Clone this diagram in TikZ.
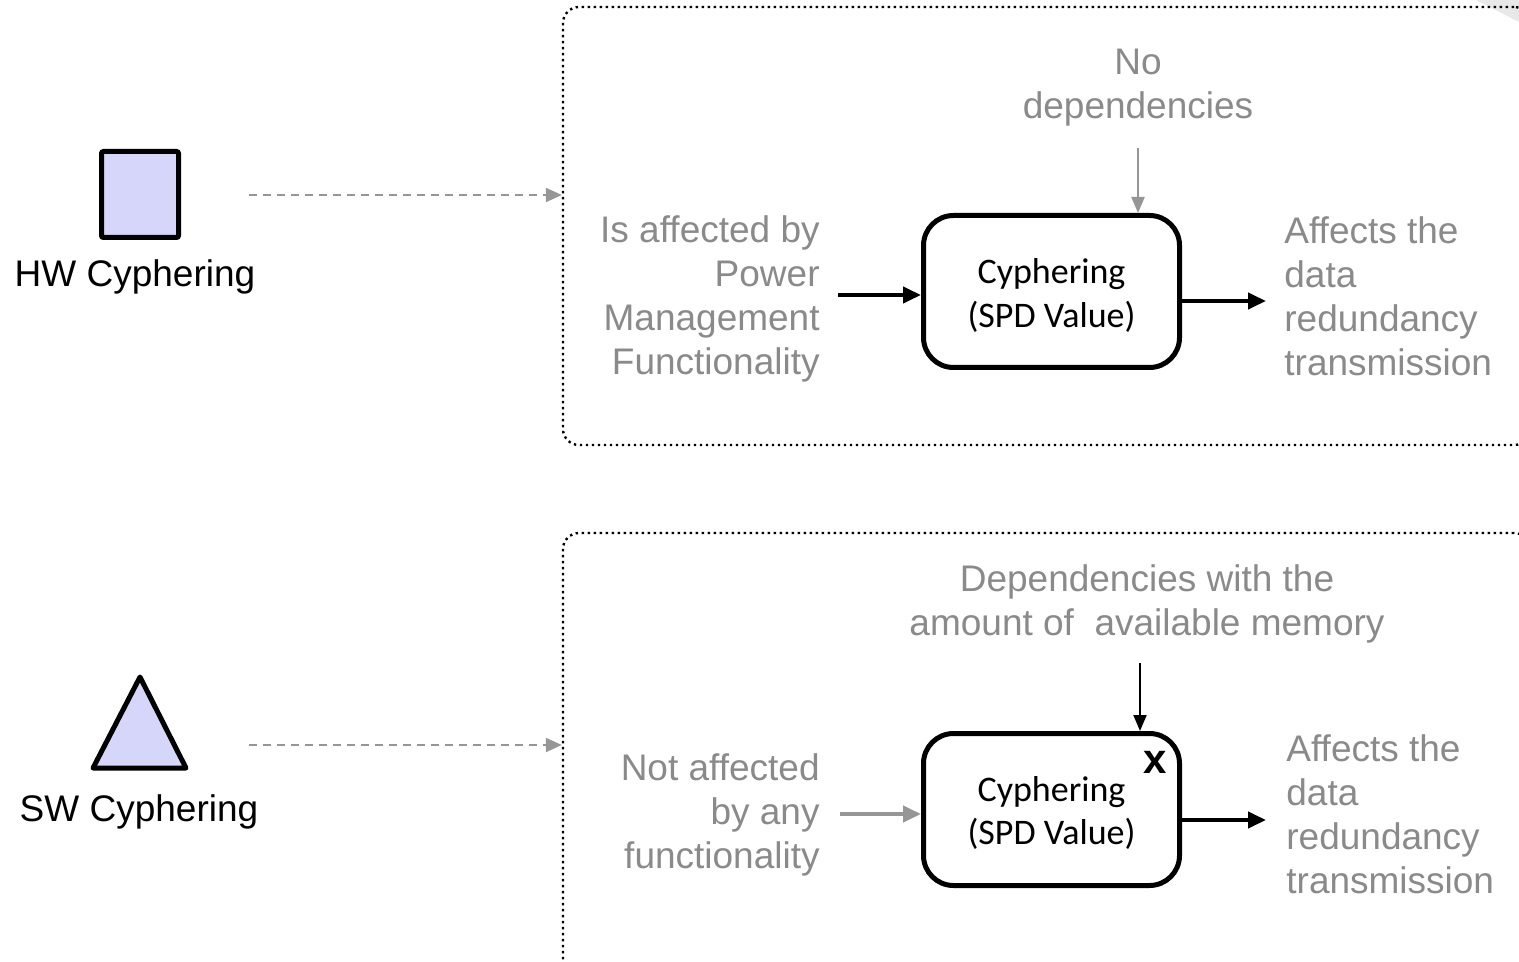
\documentclass[tikz,border=0pt]{standalone}
\usepackage{fontspec}
\setmainfont{Liberation Sans}
\newfontfamily\boxfont{Carlito}
\usetikzlibrary{arrows.meta}
\definecolor{lav}{RGB}{214,214,250}
\definecolor{lblgray}{RGB}{138,138,138}
\definecolor{arrgray}{RGB}{150,150,150}
\tikzset{
  lbl/.style={inner sep=0pt, text=lblgray, font=\fontsize{18.5}{22}\selectfont},
  kindlbl/.style={inner sep=0pt, font=\fontsize{18.5}{22}\selectfont},
  funcbox/.style={draw, line width=2.5pt, rounded corners=15pt, fill=white,
    minimum width=128pt, minimum height=76pt},
  boxtext/.style={inner sep=0pt, align=center,
    font=\boxfont\fontsize{18}{21.5}\selectfont},
  groupbox/.style={draw, line width=1.2pt, dash pattern=on 1.2pt off 1.8pt,
    rounded corners=8pt, inner sep=0pt},
  heavyarrow/.style={line width=2pt, -{Triangle[length=9pt,width=8pt]}},
  heavygray/.style={line width=2pt, draw=arrgray, -{Triangle[length=9pt,width=8pt,fill=arrgray]}},
  thinarrow/.style={line width=1pt, -{Triangle[length=8pt,width=6.5pt]}},
  thingray/.style={line width=1pt, draw=arrgray, -{Triangle[length=8pt,width=6.5pt,fill=arrgray]}},
  linkarrow/.style={line width=1pt, draw=arrgray, dash pattern=on 4pt off 3pt,
    -{Triangle[length=8pt,width=7pt,fill=arrgray]}},
}
\begin{document}
\begin{tikzpicture}[x=0.5pt,y=-0.5pt]
\clip (0,0) rectangle (1519,962);
\fill[white] (0,0) rectangle (1519,962);
% faint fold shadow in the top right corner
\fill[gray!18] (1476,0) -- (1519,0) -- (1519,22) -- cycle;

% grouping frames
\node[groupbox, minimum width=483.5pt, minimum height=219pt] (grp1) at (1046.5,226) {};
\node[groupbox, minimum width=483.5pt, minimum height=221pt] (grp2) at (1046.5,754) {};

% ---------- HW cyphering ----------
\node[draw, line width=2.5pt, fill=lav, rounded corners=1pt,
  minimum width=38.5pt, minimum height=43pt, inner sep=0pt] (hwshape) at (140,194.5) {};
\node[kindlbl] (hwname) at (135,277) {HW Cyphering};
\coordinate (hwlink) at (249,195);
\draw[linkarrow] (hwlink) -- (grp1.west |- hwlink);

\node[funcbox] (hwbox) at (1051.5,291.5) {};
\node[boxtext] (hwboxtext) at ([yshift=-2pt]hwbox.center) {Cyphering\\(SPD Value)};
\node[lbl, anchor=east, align=right] (hwin) at (820,299)
  {Is affected by\\Power\\Management\\Functionality};
\node[lbl, anchor=west, align=left] (hwoutl) at (1284,296)
  {Affects the\\data\\redundancy\\transmission};
\node[lbl, align=center] (hwdep) at (1138,88) {No\\dependencies};

\coordinate (hwinstart) at (838,295);
\coordinate (hwoutend) at (1266,301);
\coordinate (hwdepstart) at (1138,148);
\draw[heavyarrow] (hwinstart) -- (hwbox.west |- hwinstart);
\draw[heavyarrow] (hwbox.east |- hwoutend) -- (hwoutend);
\draw[thingray] (hwdepstart) -- (hwdepstart |- hwbox.north);

% ---------- SW cyphering ----------
\draw[line width=2.5pt, fill=lav, line join=round] (140,677) -- (186,768) -- (93,768) -- cycle;
\node[kindlbl] (swname) at (139,812) {SW Cyphering};
\coordinate (swlink) at (249,745);
\draw[linkarrow] (swlink) -- (grp2.west |- swlink);

\node[funcbox] (swbox) at (1051.5,809.5) {};
\node[boxtext] (swboxtext) at ([yshift=-1.5pt]swbox.center) {Cyphering\\(SPD Value)};
\node[inner sep=0pt, font=\bfseries\fontsize{21}{22}\selectfont] (swmark) at (1155,762) {x};
\node[lbl, anchor=east, align=right] (swin) at (820,815)
  {Not affected\\by any\\functionality};
\node[lbl, anchor=west, align=left] (swoutl) at (1286,814)
  {Affects the\\data\\redundancy\\transmission};
\node[lbl, align=center] (swdep) at (1147,604) {Dependencies with the\\amount of\ \ available memory};

\coordinate (swinstart) at (840,814);
\coordinate (swoutend) at (1266,820);
\coordinate (swdepstart) at (1140,663);
\draw[heavygray] (swinstart) -- (swbox.west |- swinstart);
\draw[heavyarrow] (swbox.east |- swoutend) -- (swoutend);
\draw[thinarrow] (swdepstart) -- (swdepstart |- swbox.north);
\end{tikzpicture}
\end{document}
